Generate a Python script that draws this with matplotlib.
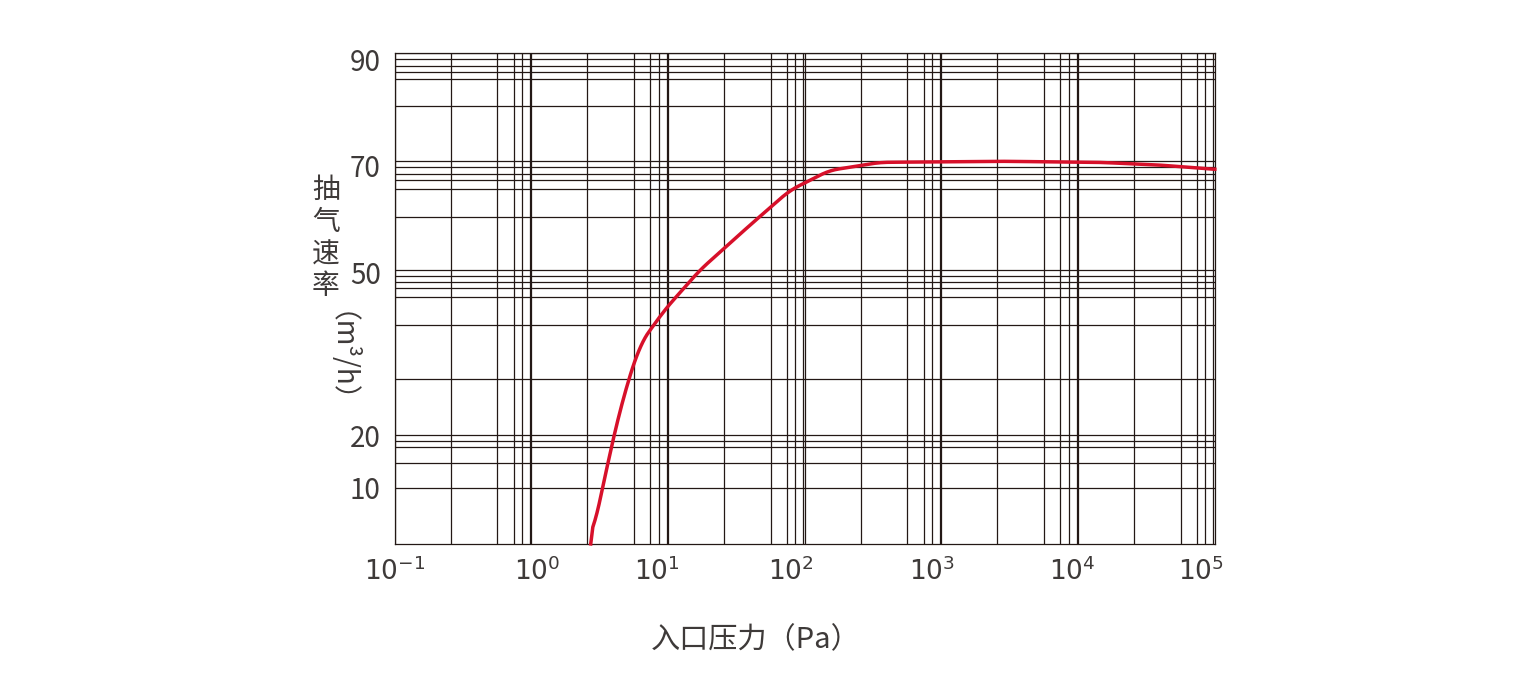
import numpy as np
import matplotlib.pyplot as plt
from matplotlib.ticker import NullLocator

plt.rcParams['font.family'] = 'Noto Sans CJK SC'

# pressure as log10(Pa), pumping speed in m3/h
log_pressure = [0.434, 0.50, 0.646, 0.79, 0.975, 1.23, 1.60, 1.89, 2.18, 2.55, 3.43, 4.16, 4.6, 5.0]
speed = [0.0, 8.1, 24.8, 36.8, 43.3, 50.6, 59.0, 65.4, 69.1, 70.6, 70.8, 70.6, 70.1, 69.3]

x_tick_pos = [-1, 0.04, 0.92, 1.9, 2.93, 3.96, 4.9]
x_tick_labels = ['$10^{-1}$', '$10^{0}$', '$10^{1}$', '$10^{2}$', '$10^{3}$', '$10^{4}$', '$10^{5}$']
y_tick_pos = [89.6, 70.1, 50.3, 20.1, 10.4]
y_tick_labels = ['90', '70', '50', '20', '10']

decade_offsets = [0, 0.41, 0.75, 0.87, 0.93, 0.99]
y_grid = [90.8, 89.8, 88.5, 87.4, 86.1, 81.0, 70.8, 69.7, 68.4, 67.3, 65.6, 60.4,
          50.6, 49.5, 48.4, 47.3, 45.6, 40.5, 30.5, 20.1, 19.0, 17.9, 15.0, 10.4]

fig = plt.figure(figsize=(15.3, 7), dpi=100)
ax = fig.add_axes([0.258, 0.223, 0.536, 0.701])
ax.set_xlim(-1, 5)
ax.set_ylim(0, 90.8)

for d in range(-1, 5):
    for o in decade_offsets:
        ax.axvline(d + o, color='#231815', lw=0.9, zorder=1)
for v in y_grid:
    ax.axhline(v, color='#231815', lw=0.9, zorder=1)

xs = np.linspace(min(log_pressure), max(log_pressure), 300)
ys = np.interp(xs, log_pressure, speed)
# light smoothing of the polyline
k = np.ones(9) / 9
ys_s = np.convolve(np.pad(ys, 4, mode='edge'), k, mode='valid')
ys_s[0] = 0
ax.plot(xs, ys_s, color='#d7102a', lw=2.5, zorder=3, clip_on=False)

for s in ax.spines.values():
    s.set_color('#231815')
    s.set_linewidth(0.9)

ax.set_xticks(x_tick_pos)
ax.set_xticklabels(x_tick_labels, fontsize=19, color='#3e3a39', fontfamily='DejaVu Sans')
ax.set_yticks(y_tick_pos)
ax.set_yticklabels(y_tick_labels, fontsize=20, color='#3e3a39')
ax.tick_params(length=0, pad=10)
ax.xaxis.set_minor_locator(NullLocator())

fig.text(0.494, 0.085, '入口压力（Pa）', fontsize=21, color='#3e3a39', ha='center', va='center')
fig.text(0.213, 0.66, '抽\n气\n速\n率', fontsize=20, color='#3e3a39', ha='center', va='center', linespacing=1.1)
fig.text(0.213, 0.47, '（m³/h）', fontsize=20, color='#3e3a39', ha='center', va='center', rotation=-90)

fig.savefig('out.png', dpi=100)
